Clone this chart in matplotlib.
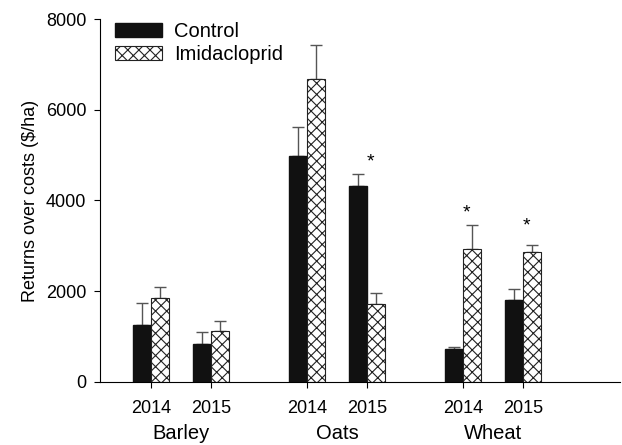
import numpy as np
import matplotlib.pyplot as plt

plt.rcParams['font.family'] = ['Liberation Sans', 'DejaVu Sans']
plt.rcParams['hatch.linewidth'] = 0.8

# data
crops = ['Barley', 'Oats', 'Wheat']
years = ['2014', '2015', '2014', '2015', '2014', '2015']
control = [1255, 837, 4978, 4317, 720, 1806]
control_se = [490, 271, 646, 271, 58, 249]
imid = [1850, 1116, 6681, 1711, 2936, 2870]
imid_se = [240, 221, 749, 249, 515, 148]
# asterisk heights (y) for significant pairs, None if not significant
stars = [None, None, None, 4846, 3722, 3436]

pos = np.array([0, 1, 2.6, 3.6, 5.2, 6.2])
w = 0.3

fig = plt.figure(figsize=(6.22, 4.45), dpi=100)
ax = fig.add_axes([0.161, 0.142, 0.836, 0.815])

zeros = np.zeros(len(pos))
ax.bar(pos - w/2, control, w, color='#111111', edgecolor='#111111', label='Control', zorder=2)
ax.bar(pos + w/2, imid, w, color='white', edgecolor='#222222', hatch='xxx',
       linewidth=0.8, label='Imidacloprid', zorder=2)
ax.errorbar(pos - w/2, control, yerr=[zeros, control_se], fmt='none',
            ecolor='#555555', elinewidth=1, capsize=4, capthick=1, zorder=1)
ax.errorbar(pos + w/2, imid, yerr=[zeros, imid_se], fmt='none',
            ecolor='#555555', elinewidth=1, capsize=4, capthick=1, zorder=1)

for p, s in zip(pos, stars):
    if s is not None:
        ax.text(p + 0.05, s, '*', ha='center', va='center', fontsize=14)

ax.set_xlim(-0.85, 7.82)
ax.set_ylim(0, 8000)
ax.set_yticks([0, 2000, 4000, 6000, 8000])
ax.set_xticks(pos)
ax.set_xticklabels(years)
ax.tick_params(axis='both', labelsize=13, direction='out', length=4)
ax.tick_params(axis='y', pad=6)
ax.tick_params(axis='x', pad=9)
ax.spines['top'].set_visible(False)
ax.spines['right'].set_visible(False)
ax.set_ylabel('Returns over costs ($/ha)', fontsize=13, labelpad=5)

for i, c in enumerate(crops):
    ax.text((pos[2*i] + pos[2*i+1]) / 2, -1150, c, ha='center', va='center', fontsize=14.5)

ax.legend(loc='upper left', frameon=False, fontsize=14.5, handlelength=2.3,
          handleheight=0.75, borderaxespad=0.1, labelspacing=0.2,
          handletextpad=0.6, bbox_to_anchor=(0.01, 1.02))

fig.savefig('out.png', dpi=100)
